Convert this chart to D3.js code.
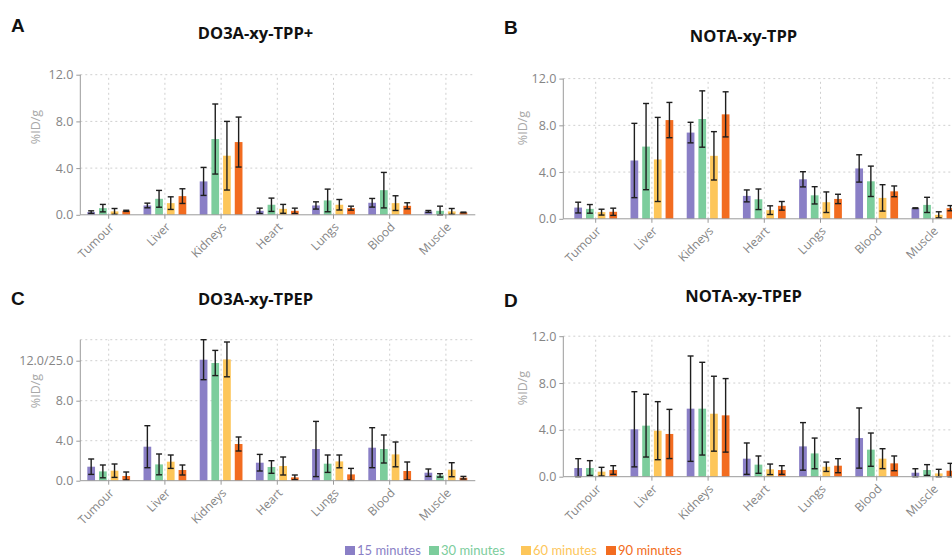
<!DOCTYPE html>
<html>
<head>
<meta charset="utf-8">
<script src="https://cdn.jsdelivr.net/npm/d3@7"></script>
<style>
  html, body { margin: 0; padding: 0; background: #fff; }
  svg { display: block; }
</style>
</head>
<body>
<svg id="chart" width="952" height="557"></svg>
<script>
// Organs (x categories) and time points (series)
const categories = ["Tumour", "Liver", "Kidneys", "Heart", "Lungs", "Blood", "Muscle"];
const series = ["15 minutes", "30 minutes", "60 minutes", "90 minutes"];
const seriesColors = ["#8a7fc6", "#7ccd9c", "#fdc65a", "#f26c20"];
const yTickValues = [0, 4, 8, 12];
const yTickLabels = ["0.0", "4.0", "8.0", "12.0"];
const yTickLabelsBroken = ["0.0", "4.0", "8.0", "12.0/25.0"];

// A: DO3A-xy-TPP+ — mean %ID/g per organ, one list per time point
const meanA15 = [0.23, 0.80, 2.86, 0.34, 0.80, 1.03, 0.29];
const meanA30 = [0.57, 1.37, 6.49, 0.86, 1.23, 2.11, 0.34];
const meanA60 = [0.29, 1.00, 5.06, 0.51, 0.86, 1.00, 0.29];
const meanA90 = [0.34, 1.60, 6.23, 0.34, 0.57, 0.77, 0.20];
const errA15 = [0.11, 0.20, 1.20, 0.23, 0.31, 0.37, 0.08];
const errA30 = [0.32, 0.72, 3.00, 0.57, 0.97, 1.52, 0.40];
const errA60 = [0.25, 0.54, 2.94, 0.38, 0.45, 0.63, 0.25];
const errA90 = [0.05, 0.63, 2.14, 0.23, 0.17, 0.26, 0.03];

// B: NOTA-xy-TPP
const meanB15 = [0.96, 4.99, 7.38, 1.96, 3.38, 4.31, 0.91];
const meanB30 = [0.85, 6.18, 8.54, 1.67, 2.01, 3.21, 1.19];
const meanB60 = [0.57, 5.08, 5.39, 0.74, 1.42, 1.79, 0.34];
const meanB90 = [0.60, 8.45, 8.94, 1.11, 1.70, 2.35, 0.91];
const errB15 = [0.46, 3.18, 0.88, 0.51, 0.65, 1.17, 0.03];
const errB30 = [0.37, 3.69, 2.41, 0.88, 0.74, 1.30, 0.65];
const errB60 = [0.25, 3.60, 2.07, 0.37, 0.88, 1.13, 0.26];
const errB90 = [0.31, 1.51, 1.93, 0.37, 0.40, 0.46, 0.22];

// C: DO3A-xy-TPEP
const meanC15 = [1.40, 3.40, 12.10, 1.80, 3.17, 3.30, 0.80];
const meanC30 = [0.93, 1.63, 11.77, 1.37, 1.70, 3.17, 0.53];
const meanC60 = [1.00, 1.90, 12.13, 1.47, 1.93, 2.63, 1.10];
const meanC90 = [0.47, 1.07, 3.67, 0.33, 0.63, 0.97, 0.30];
const errC15 = [0.77, 2.10, 2.00, 0.83, 2.76, 2.00, 0.37];
const errC30 = [0.64, 1.04, 1.26, 0.63, 0.87, 1.40, 0.17];
const errC60 = [0.67, 0.67, 1.74, 0.90, 0.64, 1.24, 0.70];
const errC90 = [0.40, 0.50, 0.70, 0.24, 0.60, 0.90, 0.13];

// D: NOTA-xy-TPEP
const meanD15 = [0.74, 4.05, 5.81, 1.54, 2.59, 3.30, 0.34];
const meanD30 = [0.74, 4.36, 5.81, 1.03, 1.99, 2.31, 0.57];
const meanD60 = [0.43, 3.93, 5.38, 0.63, 0.85, 1.54, 0.28];
const meanD90 = [0.57, 3.65, 5.24, 0.57, 0.94, 1.14, 0.51];
const errD15 = [0.80, 3.21, 4.50, 1.34, 2.03, 2.57, 0.34];
const errD30 = [0.63, 2.68, 3.96, 0.74, 1.31, 1.42, 0.46];
const errD60 = [0.37, 2.48, 3.20, 0.45, 0.40, 0.85, 0.35];
const errD90 = [0.37, 2.10, 3.14, 0.37, 0.60, 0.63, 0.63];

// Panel layout
const panels = [
  { letter: "A", title: "DO3A-xy-TPP+", means: [meanA15, meanA30, meanA60, meanA90], errs: [errA15, errA30, errA60, errA90],
    letterX: 11, letterY: 32, titleX: 255.5, titleY: 39, axisX: 80.3, bandX: 80.6, y0: 214.8, yMax: 12, yTop: 74.7,
    tickLabels: yTickLabels, titleYX: 36, titleYY: 127 },
  { letter: "B", title: "NOTA-xy-TPP", means: [meanB15, meanB30, meanB60, meanB90], errs: [errB15, errB30, errB60, errB90],
    letterX: 504, letterY: 34, titleX: 743.5, titleY: 42, axisX: 563.3, bandX: 567.6, y0: 218.8, yMax: 12, yTop: 78.6,
    tickLabels: yTickLabels, titleYX: 523, titleYY: 128 },
  { letter: "C", title: "DO3A-xy-TPEP", means: [meanC15, meanC30, meanC60, meanC90], errs: [errC15, errC30, errC60, errC90],
    letterX: 11, letterY: 305, titleX: 255.5, titleY: 305, axisX: 80.3, bandX: 80.6, y0: 480.7, yMax: 14.1, yTop: 339.7,
    tickLabels: yTickLabelsBroken, titleYX: 36, titleYY: 391 },
  { letter: "D", title: "NOTA-xy-TPEP", means: [meanD15, meanD30, meanD60, meanD90], errs: [errD15, errD30, errD60, errD90],
    letterX: 504, letterY: 307, titleX: 743.5, titleY: 302, axisX: 563.3, bandX: 567.6, y0: 476.7, yMax: 12, yTop: 336.2,
    tickLabels: yTickLabels, titleYX: 523, titleYY: 388 }
];

const svg = d3.select("#chart");
svg.append("rect").attr("width", 952).attr("height", 557).attr("fill", "#fff");

const bandStep = 56.2;
const axisColor = "#9a9a9a";
const gridColor = "#cfcfcf";
const textGray = "#858585";

panels.forEach(p => {
  const g = svg.append("g");
  const plotRight = p.axisX + 395;

  const x0 = d3.scaleBand().domain(categories)
    .range([p.bandX, p.bandX + bandStep * categories.length]).padding(0);
  const x1 = d3.scaleBand().domain(series)
    .range([0, x0.bandwidth()]).paddingInner(0.34).paddingOuter(0.575);
  const y = d3.scaleLinear().domain([0, p.yMax]).range([p.y0, p.yTop]);

  // dotted grid
  const grid = g.append("g").attr("stroke", gridColor).attr("stroke-width", 1)
    .attr("stroke-dasharray", "2,3");
  const hVals = yTickValues.filter(v => v > 0);
  if (p.yMax > 12) hVals.push(p.yMax);
  grid.selectAll("line.h").data(hVals).join("line").attr("class", "h")
    .attr("x1", p.axisX).attr("x2", plotRight)
    .attr("y1", d => y(d)).attr("y2", d => y(d));
  grid.selectAll("line.v").data(categories).join("line").attr("class", "v")
    .attr("x1", d => x0(d) + x0.bandwidth() / 2).attr("x2", d => x0(d) + x0.bandwidth() / 2)
    .attr("y1", p.y0).attr("y2", y(p.yMax));

  // bars
  const rows = [];
  series.forEach((s, si) => {
    categories.forEach((c, ci) => {
      rows.push({ s, si, c, v: p.means[si][ci], e: p.errs[si][ci] });
    });
  });
  g.append("g").selectAll("rect").data(rows).join("rect")
    .attr("x", d => x0(d.c) + x1(d.s))
    .attr("width", x1.bandwidth())
    .attr("y", d => y(d.v))
    .attr("height", d => p.y0 - y(d.v))
    .attr("fill", d => seriesColors[d.si]);

  // error bars
  const eg = g.append("g").attr("stroke", "#1e1e1e").attr("stroke-width", 1.4).attr("fill", "none");
  rows.forEach(d => {
    const cx = x0(d.c) + x1(d.s) + x1.bandwidth() / 2;
    const hi = y(d.v + d.e), lo = y(Math.max(0, d.v - d.e));
    eg.append("line").attr("x1", cx).attr("x2", cx).attr("y1", hi).attr("y2", lo);
    eg.append("line").attr("x1", cx - 3).attr("x2", cx + 3).attr("y1", hi).attr("y2", hi);
    eg.append("line").attr("x1", cx - 3).attr("x2", cx + 3).attr("y1", lo).attr("y2", lo);
  });

  // y axis
  const yAxis = d3.axisLeft(y).tickValues(yTickValues)
    .tickFormat((d, i) => p.tickLabels[i]).tickSize(4).tickPadding(3);
  const ya = g.append("g").attr("transform", `translate(${p.axisX},0)`).call(yAxis);
  ya.select(".domain").attr("d", `M0,${p.y0}V${y(p.yMax)}`);
  ya.selectAll("path,line").attr("stroke", axisColor);
  ya.selectAll("text").attr("fill", textGray).attr("font-size", 12.5)
    .attr("font-family", "'Open Sans', sans-serif");

  // x axis with slanted organ labels
  const xa = g.append("g").attr("transform", `translate(0,${p.y0})`)
    .call(d3.axisBottom(x0).tickSize(4).tickSizeOuter(0));
  xa.select(".domain").attr("d", `M${p.axisX},0H${plotRight}`);
  xa.selectAll("path,line").attr("stroke", axisColor);
  xa.selectAll("text")
    .attr("fill", textGray).attr("font-size", 12)
    .attr("font-family", "'Open Sans', sans-serif")
    .attr("text-anchor", "end")
    .attr("x", 0).attr("y", 0).attr("dy", "0.35em")
    .attr("transform", "translate(3,10) rotate(-45)");

  // y axis title
  g.append("text")
    .attr("transform", `translate(${p.titleYX},${p.titleYY}) rotate(-90)`)
    .attr("text-anchor", "middle").attr("dy", "0.35em")
    .attr("fill", "#a8a8a8").attr("font-size", 12.5)
    .attr("font-family", "'Open Sans', sans-serif")
    .text("%ID/g");

  // panel title and letter
  g.append("text").attr("x", p.titleX).attr("y", p.titleY)
    .attr("text-anchor", "middle").attr("font-weight", 700).attr("font-size", 16.5)
    .attr("font-family", "'Open Sans', sans-serif").attr("fill", "#111")
    .text(p.title);
  g.append("text").attr("x", p.letterX).attr("y", p.letterY)
    .attr("font-weight", 700).attr("font-size", 19)
    .attr("font-family", "'Liberation Sans', Arial, sans-serif").attr("fill", "#111")
    .text(p.letter);
});

// legend
const legendX = [345, 429, 521, 606];
const lg = svg.append("g");
series.forEach((s, i) => {
  lg.append("rect").attr("x", legendX[i]).attr("y", 546).attr("width", 10).attr("height", 9)
    .attr("fill", seriesColors[i]);
  lg.append("text").attr("x", legendX[i] + 12).attr("y", 555)
    .attr("font-size", 13).attr("font-family", "Lato, sans-serif")
    .attr("fill", seriesColors[i]).text(s);
});
</script>
</body>
</html>
